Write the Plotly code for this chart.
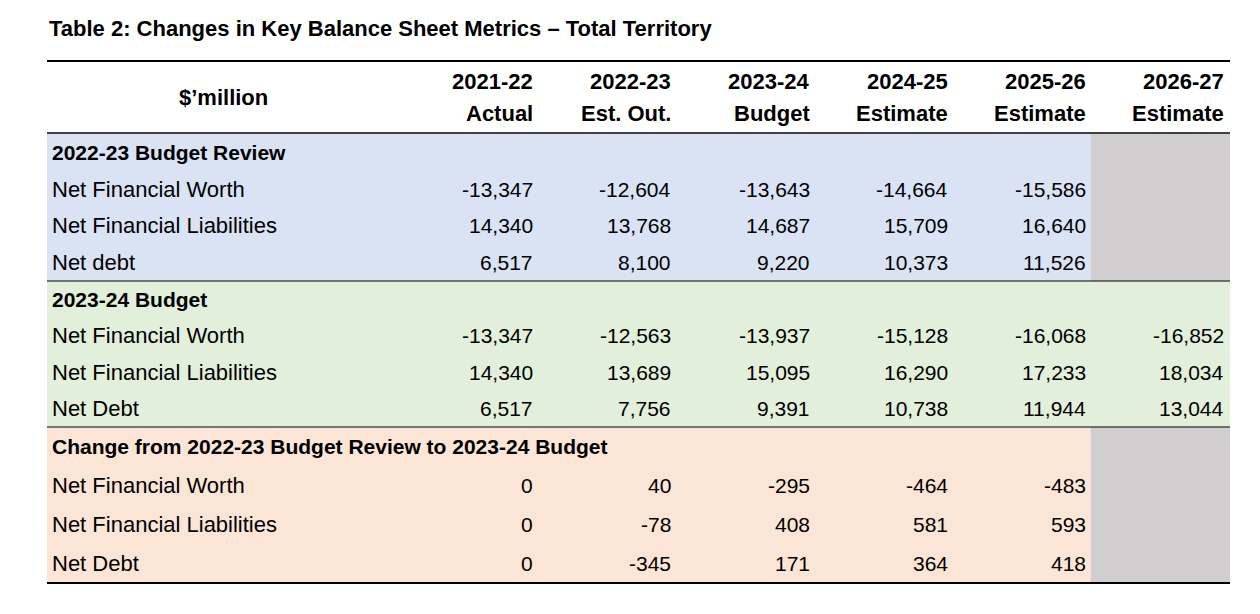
import plotly.graph_objects as go

# ---- data ----
title = "Table 2: Changes in Key Balance Sheet Metrics \u2013 Total Territory"
years = ["2021-22", "2022-23", "2023-24", "2024-25", "2025-26", "2026-27"]
year_types = ["Actual", "Est. Out.", "Budget", "Estimate", "Estimate", "Estimate"]

sections = [
    "2022-23 Budget Review",
    "2023-24 Budget",
    "Change from 2022-23 Budget Review to 2023-24 Budget",
]
row_labels = [
    ["Net Financial Worth", "Net Financial Liabilities", "Net debt"],
    ["Net Financial Worth", "Net Financial Liabilities", "Net Debt"],
    ["Net Financial Worth", "Net Financial Liabilities", "Net Debt"],
]
review_vals = [
    ["-13,347", "-12,604", "-13,643", "-14,664", "-15,586", ""],
    ["14,340", "13,768", "14,687", "15,709", "16,640", ""],
    ["6,517", "8,100", "9,220", "10,373", "11,526", ""],
]
budget_vals = [
    ["-13,347", "-12,563", "-13,937", "-15,128", "-16,068", "-16,852"],
    ["14,340", "13,689", "15,095", "16,290", "17,233", "18,034"],
    ["6,517", "7,756", "9,391", "10,738", "11,944", "13,044"],
]
change_vals = [
    ["0", "40", "-295", "-464", "-483", ""],
    ["0", "-78", "408", "581", "593", ""],
    ["0", "-345", "171", "364", "418", ""],
]
section_vals = [review_vals, budget_vals, change_vals]

# ---- layout (pixel coordinates of the screenshot) ----
W, H = 1260, 614
OFF = 8  # page body margin
left, right = 47, 1230
label_w = 352
col_w = (right - 2 - left - label_w) / 6
col_right = [left + label_w + col_w * (i + 1) - 2 for i in range(6)]
section_fills = ["#dae3f3", "#e2efda", "#fbe5d6"]
section_gray = [True, False, True]
section_bounds = [(134, 281), (281, 427), (427, 583)]
FONT = "Liberation Sans"


def txt(size, bold=False):
    return dict(size=size, color="black", family=FONT)


shapes, annots = [], []

for s, (top, bot) in enumerate(section_bounds):
    shapes.append(dict(type="rect", x0=left, x1=right, y0=top, y1=bot,
                       fillcolor=section_fills[s], line_width=0, layer="below"))
    if section_gray[s]:
        shapes.append(dict(type="rect", x0=col_right[4] + 3, x1=right, y0=top, y1=bot,
                           fillcolor="#d0cece", line_width=0, layer="below"))
    rh = (bot - top) / 4
    annots.append(dict(x=50, y=top + rh / 2, text="<b>" + sections[s] + "</b>",
                       xanchor="left", yanchor="middle", showarrow=False, font=txt(21)))
    for r, lab in enumerate(row_labels[s]):
        y = top + rh * (r + 1.5)
        annots.append(dict(x=50, y=y, text=lab, xanchor="left", yanchor="middle",
                           showarrow=False, font=txt(22)))
        for c, v in enumerate(section_vals[s][r]):
            if v:
                annots.append(dict(x=col_right[c], y=y, text=v, xanchor="right",
                                   yanchor="middle", showarrow=False, font=txt(21)))

# header
annots.append(dict(x=left + label_w / 2, y=97, text="<b>$\u2019million</b>", xanchor="center",
                   yanchor="middle", showarrow=False, font=txt(22)))
for c in range(6):
    annots.append(dict(x=col_right[c], y=81, text="<b>" + years[c] + "</b>", xanchor="right",
                       yanchor="middle", showarrow=False, font=txt(22)))
    annots.append(dict(x=col_right[c], y=113, text="<b>" + year_types[c] + "</b>", xanchor="right",
                       yanchor="middle", showarrow=False, font=txt(22)))

annots.append(dict(x=47, y=28, text="<b>" + title + "</b>", xanchor="left", yanchor="middle",
                   showarrow=False, font=txt(22)))

for y, w in [(61, 2), (133, 1.5), (281, 1), (427, 1), (583, 2)]:
    shapes.append(dict(type="line", x0=left, x1=right, y0=y, y1=y,
                       line=dict(color="black", width=w)))

fig = go.Figure()
fig.update_layout(
    width=W, height=H,
    margin=dict(l=0, r=0, t=0, b=0),
    plot_bgcolor="white", paper_bgcolor="white",
    xaxis=dict(range=[OFF, W + OFF], visible=False, fixedrange=True),
    yaxis=dict(range=[H + OFF, OFF], visible=False, fixedrange=True),
    shapes=shapes, annotations=annots, showlegend=False,
)

fig.write_html("out.html")
